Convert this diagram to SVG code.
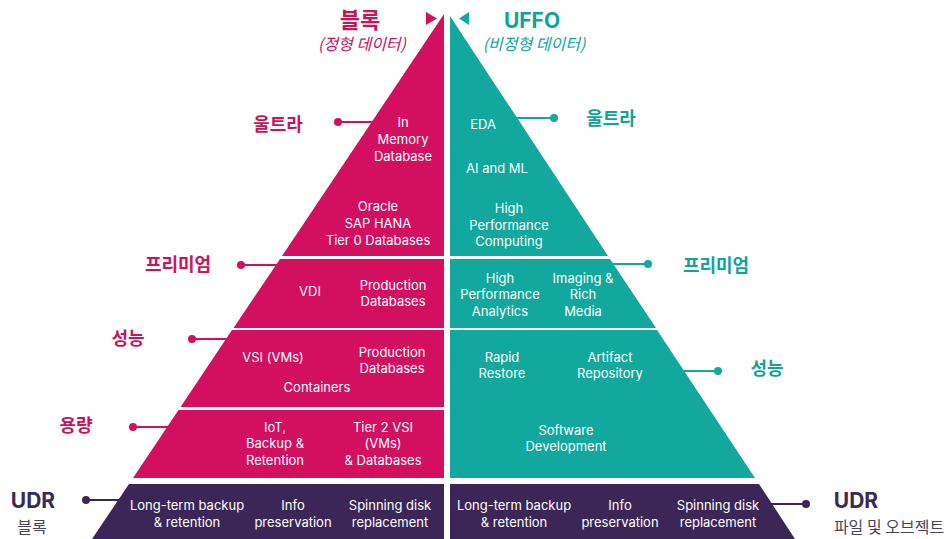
<svg xmlns="http://www.w3.org/2000/svg" width="948" height="539" viewBox="0 0 948 539">
<style>
.mag{fill:#D3105F}
.teal{fill:#12A89D}
.pur{fill:#3C2657}
.in{font-family:Inter,"Liberation Sans",sans-serif;font-size:13px;fill:#ffffff;text-anchor:middle}
.kr{font-family:"Noto Sans CJK KR",sans-serif;font-weight:700;font-size:18px}
.km{fill:#C8145C}
.kt{fill:#10A398}
.sub{font-family:"Noto Sans CJK KR",sans-serif;font-size:16px;font-style:italic}
.udr{font-family:Inter,"Liberation Sans",sans-serif;font-weight:700;font-size:21px;fill:#3A2A55}
.udrs{font-family:"Noto Sans CJK KR",sans-serif;font-size:16px;fill:#4a4458}
.ln{stroke-width:2;fill:none}
</style>
<rect width="948" height="539" fill="#ffffff"/>
<g id="headers">
<polygon class="mag" points="426,12 426,25 437,18.5"/>
<polygon class="teal" points="469,12 469,25 459,18.5"/>
<text x="360" y="28" class="kr km" text-anchor="middle" style="font-size:22px">블록</text>
<text x="362" y="50" class="sub km" text-anchor="middle">(정형 데이터)</text>
<text x="532" y="28" text-anchor="middle" style="font-family:Inter,'Liberation Sans',sans-serif;font-weight:700;font-size:21px;fill:#10A398">UFFO</text>
<text x="534" y="50" class="sub kt" text-anchor="middle">(비정형 데이터)</text>
</g>
<g id="connectors">
<line class="ln" stroke="#D3105F" x1="338" y1="122" x2="373" y2="122"/>
<circle class="mag" cx="338" cy="122" r="4"/>
<line class="ln" stroke="#D3105F" x1="241" y1="265" x2="277" y2="265"/>
<circle class="mag" cx="241" cy="265" r="4"/>
<line class="ln" stroke="#D3105F" x1="192" y1="339" x2="228" y2="339"/>
<circle class="mag" cx="192" cy="339" r="4"/>
<line class="ln" stroke="#D3105F" x1="133" y1="427" x2="169" y2="427"/>
<circle class="mag" cx="133" cy="427" r="4"/>
<line class="ln" stroke="#3C2657" x1="86" y1="500" x2="120" y2="500"/>
<circle class="pur" cx="86" cy="500" r="4"/>
<line class="ln" stroke="#12A89D" x1="515" y1="118" x2="554" y2="118"/>
<circle class="teal" cx="554" cy="118" r="4"/>
<line class="ln" stroke="#12A89D" x1="612" y1="264" x2="648" y2="264"/>
<circle class="teal" cx="648" cy="264" r="4"/>
<line class="ln" stroke="#12A89D" x1="682" y1="371" x2="718" y2="371"/>
<circle class="teal" cx="718" cy="371" r="4"/>
<line class="ln" stroke="#3C2657" x1="770" y1="504" x2="806" y2="504"/>
<circle class="pur" cx="806" cy="504" r="4"/>
</g>
<g id="left-ultra">
<polygon class="mag" points="444,14 444,256 282,256"/>
<text class="in" x="403" y="127">In</text>
<text class="in" x="403" y="144">Memory</text>
<text class="in" x="403" y="161">Database</text>
<text class="in" x="378" y="211">Oracle</text>
<text class="in" x="378" y="228">SAP HANA</text>
<text class="in" x="378" y="245">Tier 0 Databases</text>
<text class="kr km" x="278" y="131" text-anchor="middle">울트라</text>
</g>
<g id="left-premium">
<polygon class="mag" points="280,259 444,259 444,328 233.5,328"/>
<text class="in" x="310" y="296">VDI</text>
<text class="in" x="393" y="290">Production</text>
<text class="in" x="393" y="306">Databases</text>
<text class="kr km" x="178" y="271" text-anchor="middle">프리미엄</text>
</g>
<g id="left-performance">
<polygon class="mag" points="232,330 444,330 444,407 180.5,407"/>
<text class="in" x="273" y="362">VSI (VMs)</text>
<text class="in" x="392" y="357">Production</text>
<text class="in" x="392" y="373">Databases</text>
<text class="in" x="317" y="392">Containers</text>
<text class="kr km" x="128" y="345" text-anchor="middle">성능</text>
</g>
<g id="left-capacity">
<polygon class="mag" points="178.5,410 444,410 444,478 133,478"/>
<text class="in" x="275" y="432">IoT,</text>
<text class="in" x="275" y="448">Backup &amp;</text>
<text class="in" x="275" y="465">Retention</text>
<text class="in" x="383" y="432">Tier 2 VSI</text>
<text class="in" x="383" y="448">(VMs)</text>
<text class="in" x="383" y="465">&amp; Databases</text>
<text class="kr km" x="76" y="432" text-anchor="middle">용량</text>
</g>
<g id="left-udr">
<polygon class="pur" points="129,484 444,484 444,539 92,539"/>
<text class="in" x="187" y="510">Long-term backup</text>
<text class="in" x="187" y="527">&amp; retention</text>
<text class="in" x="293" y="510">Info</text>
<text class="in" x="293" y="527">preservation</text>
<text class="in" x="390" y="510">Spinning disk</text>
<text class="in" x="390" y="527">replacement</text>
<text class="udr" x="33" y="508" text-anchor="middle">UDR</text>
<text class="udrs" x="32" y="533" text-anchor="middle">블록</text>
</g>
<g id="right-ultra">
<polygon class="teal" points="450,16 450,256 608,256"/>
<text class="in" x="483" y="129">EDA</text>
<text class="in" x="497" y="173">AI and ML</text>
<text class="in" x="509" y="213">High</text>
<text class="in" x="509" y="230">Performance</text>
<text class="in" x="509" y="246">Computing</text>
<text class="kr kt" x="611" y="125" text-anchor="middle">울트라</text>
</g>
<g id="right-premium">
<polygon class="teal" points="450,259 610,259 656,328 450,328"/>
<text class="in" x="500" y="283">High</text>
<text class="in" x="500" y="299">Performance</text>
<text class="in" x="500" y="316">Analytics</text>
<text class="in" x="583" y="283">Imaging &amp;</text>
<text class="in" x="583" y="299">Rich</text>
<text class="in" x="583" y="316">Media</text>
<text class="kr kt" x="716" y="272" text-anchor="middle">프리미엄</text>
</g>
<g id="right-performance">
<polygon class="teal" points="450,330 657,330 755,478 450,478"/>
<text class="in" x="502" y="362">Rapid</text>
<text class="in" x="502" y="378">Restore</text>
<text class="in" x="610" y="362">Artifact</text>
<text class="in" x="610" y="378">Repository</text>
<text class="in" x="566" y="435">Software</text>
<text class="in" x="566" y="451">Development</text>
<text class="kr kt" x="767" y="375" text-anchor="middle">성능</text>
</g>
<g id="right-udr">
<polygon class="pur" points="450,484 759,484 795,539 450,539"/>
<text class="in" x="514" y="510">Long-term backup</text>
<text class="in" x="514" y="527">&amp; retention</text>
<text class="in" x="620" y="510">Info</text>
<text class="in" x="620" y="527">preservation</text>
<text class="in" x="718" y="510">Spinning disk</text>
<text class="in" x="718" y="527">replacement</text>
<text class="udr" x="856" y="508" text-anchor="middle">UDR</text>
<text class="udrs" x="889" y="533" text-anchor="middle">파일 및 오브젝트</text>
</g>
</svg>
